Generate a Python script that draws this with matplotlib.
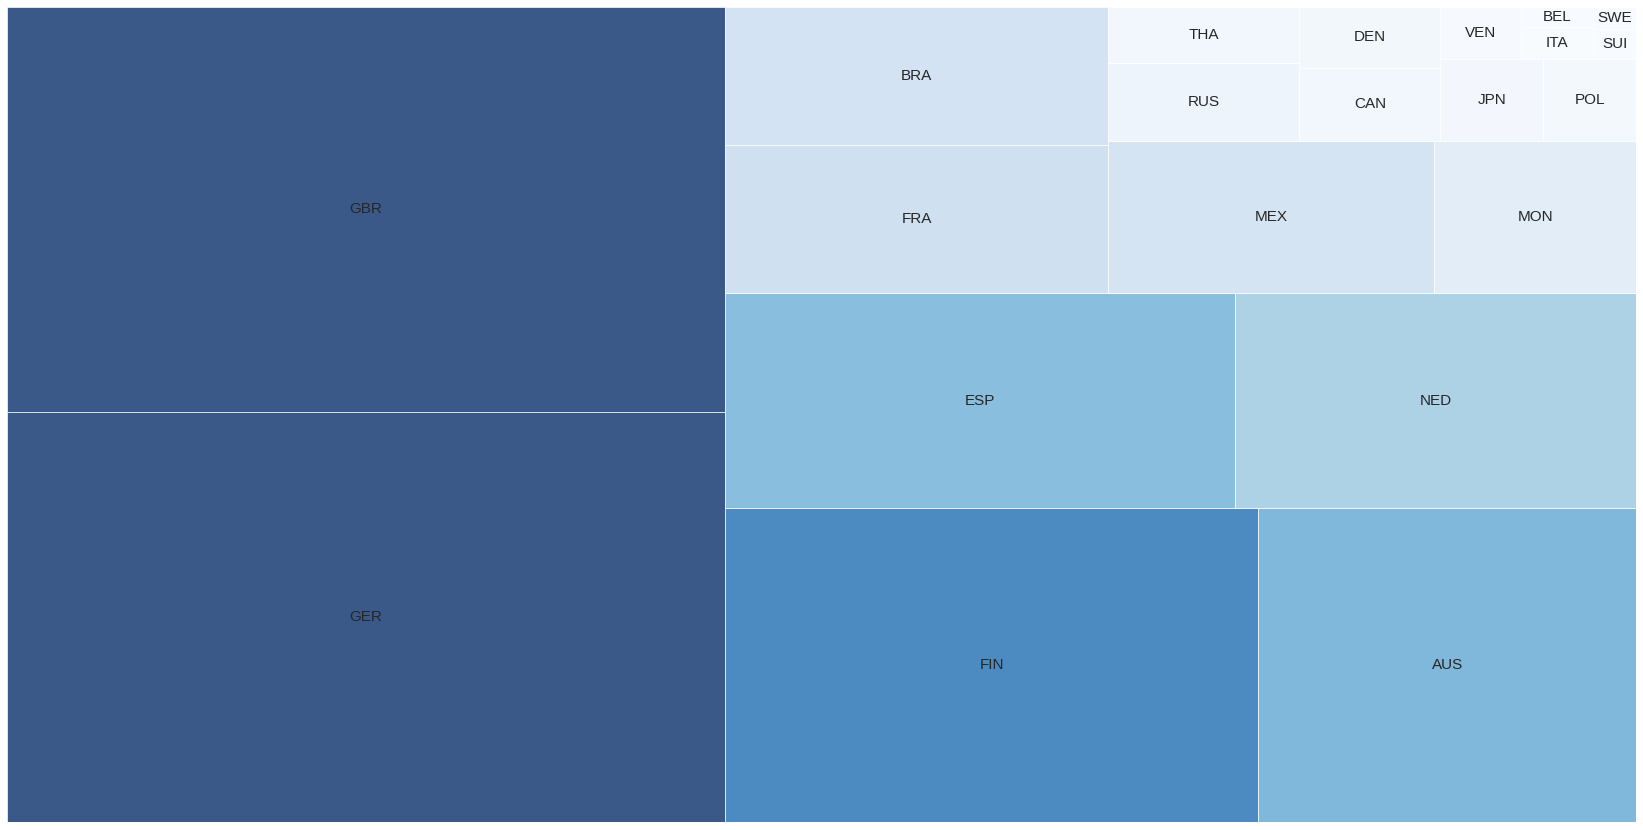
import matplotlib.pyplot as plt
import matplotlib.colors as mcolors

# Country codes and their sizes, largest first
labels = ["GER", "GBR", "FIN", "AUS", "ESP", "NED", "FRA", "BRA", "MEX", "MON",
          "RUS", "THA", "CAN", "DEN", "JPN", "POL", "VEN", "ITA", "BEL", "SUI", "SWE"]
values = [892.8, 881.5, 507.7, 360.2, 332.5, 261.4, 171.8, 160.9, 150.8, 93.6,
          44.9, 32.8, 30.9, 26.3, 25.5, 23.1, 12.7, 7.0, 4.4, 3.9, 3.0]


# --------- Squarified layout ---------
def layout_row(sizes, x, y, dx, dy):
    width = sum(sizes) / dy
    rects = []
    for s in sizes:
        rects.append((x, y, width, s / width))
        y += s / width
    return rects


def layout_col(sizes, x, y, dx, dy):
    height = sum(sizes) / dx
    rects = []
    for s in sizes:
        rects.append((x, y, s / height, height))
        x += s / height
    return rects


def layout(sizes, x, y, dx, dy):
    if dx >= dy:
        return layout_row(sizes, x, y, dx, dy)
    return layout_col(sizes, x, y, dx, dy)


def leftover(sizes, x, y, dx, dy):
    if dx >= dy:
        width = sum(sizes) / dy
        return x + width, y, dx - width, dy
    height = sum(sizes) / dx
    return x, y + height, dx, dy - height


def worst_ratio(sizes, x, y, dx, dy):
    return max(max(w / h, h / w) for _, _, w, h in layout(sizes, x, y, dx, dy))


def squarify(sizes, x, y, dx, dy):
    if len(sizes) == 0:
        return []
    if len(sizes) == 1:
        return layout(sizes, x, y, dx, dy)
    i = 1
    while i < len(sizes) and worst_ratio(sizes[:i], x, y, dx, dy) >= worst_ratio(sizes[:i + 1], x, y, dx, dy):
        i += 1
    current, remaining = sizes[:i], sizes[i:]
    lx, ly, ldx, ldy = leftover(current, x, y, dx, dy)
    return layout(current, x, y, dx, dy) + squarify(remaining, lx, ly, ldx, ldy)


norm_x, norm_y = 100, 100
total = sum(values)
sizes = [v * norm_x * norm_y / total for v in values]
rects = squarify(sizes, 0, 0, norm_x, norm_y)

# --------- Plotting ---------
norm = mcolors.Normalize(vmin=0, vmax=max(values) * 0.75)
colors = [plt.cm.Blues(min(norm(v), 1.0)) for v in values]

fig = plt.figure(figsize=(16.43, 8.30), dpi=100)
ax = fig.add_axes([0.00444, 0.00904, 0.9916, 0.98289])

for (x, y, w, h), c, lab in zip(rects, colors, labels):
    ax.bar(x, h, width=w, bottom=y, align="edge", color=c, alpha=0.8,
           edgecolor="white", linewidth=0.6)
    ax.text(x + w / 2, y + h / 2, lab, ha="center", va="center",
            fontsize=11, color="#262626", family=["Liberation Sans", "DejaVu Sans"])

ax.set_xlim(0, norm_x)
ax.set_ylim(0, norm_y)
ax.axis("off")

fig.savefig("out.png", dpi=100)
